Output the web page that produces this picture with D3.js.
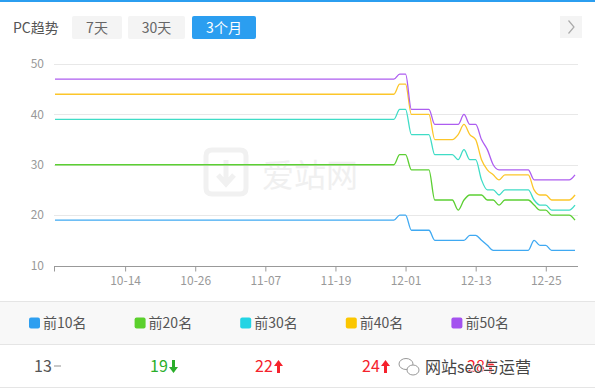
<!DOCTYPE html>
<html>
<head>
<meta charset="utf-8">
<script src="https://cdn.jsdelivr.net/npm/d3@7/dist/d3.min.js"></script>
<style>
  html, body { margin: 0; padding: 0; background: #fff; }
  svg { display: block; font-family: "Microsoft YaHei", "Noto Sans CJK SC", "Noto Sans", sans-serif; }
</style>
</head>
<body>
<svg id="chart" width="595" height="392"></svg>
<script>
// ---------------- data ----------------
const startDay = "2019-10-02";   // first category (10-02), one point per day
const tickLabels = ["10-14", "10-26", "11-07", "11-19", "12-01", "12-13", "12-25"];
const yTicks = [10, 20, 30, 40, 50];
const periodButtons = ["7天", "30天", "3个月"];
const seriesNames = ["前10名", "前20名", "前30名", "前40名", "前50名"];
const seriesColors = ["#2e9ff0", "#5bd02c", "#22d4e4", "#fbc600", "#a452ef"];
const lineColors = ["#3fa9f2", "#5ccf33", "#3fdcc6", "#fcc62a", "#ad5df0"];

const top10 = [
  19,19,19,19,19,19,19,19,19,19,
  19,19,19,19,19,19,19,19,19,19,
  19,19,19,19,19,19,19,19,19,19,
  19,19,19,19,19,19,19,19,19,19,
  19,19,19,19,19,19,19,19,19,19,
  19,19,19,19,19,19,19,19,19,20,
  20,17,17,17,17,15,15,15,15,15,
  15,16,16,15,14,13,13,13,13,13,
  13,13,15,14,14,13,13,13,13,13];
const top20 = [
  30,30,30,30,30,30,30,30,30,30,
  30,30,30,30,30,30,30,30,30,30,
  30,30,30,30,30,30,30,30,30,30,
  30,30,30,30,30,30,30,30,30,30,
  30,30,30,30,30,30,30,30,30,30,
  30,30,30,30,30,30,30,30,30,32,
  32,29,29,29,29,23,23,23,23,21,
  23,24,24,24,23,23,22,23,23,23,
  23,23,22,21,21,20,20,20,20,19];
const top30 = [
  39,39,39,39,39,39,39,39,39,39,
  39,39,39,39,39,39,39,39,39,39,
  39,39,39,39,39,39,39,39,39,39,
  39,39,39,39,39,39,39,39,39,39,
  39,39,39,39,39,39,39,39,39,39,
  39,39,39,39,39,39,39,39,39,41,
  41,36,36,36,36,32,32,32,32,31,
  33,31,31,27,25,25,24,25,25,25,
  25,25,23,22,22,21,21,21,21,22];
const top40 = [
  44,44,44,44,44,44,44,44,44,44,
  44,44,44,44,44,44,44,44,44,44,
  44,44,44,44,44,44,44,44,44,44,
  44,44,44,44,44,44,44,44,44,44,
  44,44,44,44,44,44,44,44,44,44,
  44,44,44,44,44,44,44,44,44,46,
  46,40,40,40,40,35,35,35,35,36,
  38,36,35,31,29,28,27,28,28,28,
  28,28,25,24,24,23,23,23,23,24];
const top50 = [
  47,47,47,47,47,47,47,47,47,47,
  47,47,47,47,47,47,47,47,47,47,
  47,47,47,47,47,47,47,47,47,47,
  47,47,47,47,47,47,47,47,47,47,
  47,47,47,47,47,47,47,47,47,47,
  47,47,47,47,47,47,47,47,47,48,
  48,41,41,41,41,38,38,38,38,38,
  40,38,38,35,33,30,29,29,29,29,
  29,29,27,27,27,27,27,27,27,28];

const currentValues = [13, 19, 22, 24, 28];
const trends = ["flat", "down", "up", "up", "up"];

// ---------------- build ----------------
const allSeries = [top10, top20, top30, top40, top50];
const parse = d3.timeParse("%Y-%m-%d");
const start = parse(startDay);
const dates = top10.map((_, i) => d3.timeDay.offset(start, i));
const tickDates = tickLabels.map(t => parse("2019-" + t));

const svg = d3.select("#chart");

// top blue strip
svg.append("rect").attr("x", 0).attr("y", 0).attr("width", 595).attr("height", 2).attr("fill", "#2b9ef0");

// header
svg.append("text").attr("x", 13).attr("y", 33).attr("font-size", 14).attr("fill", "#555").text("PC趋势");
const btnX = [72, 128, 192], btnW = [50, 57, 64];
periodButtons.forEach((b, i) => {
  const active = i === 2;
  svg.append("rect").attr("x", btnX[i]).attr("y", 16).attr("width", btnW[i]).attr("height", 23)
    .attr("rx", 2).attr("fill", active ? "#2b9ef0" : "#f4f4f4");
  svg.append("text").attr("x", btnX[i] + btnW[i] / 2).attr("y", 33).attr("text-anchor", "middle")
    .attr("font-size", 14).attr("fill", active ? "#fff" : "#666").text(b);
});
// right arrow button
svg.append("rect").attr("x", 560).attr("y", 16).attr("width", 22).attr("height", 22).attr("fill", "#f4f4f4");
svg.append("path").attr("d", "M568.5,20.5 L574,27 L568.5,33.5").attr("fill", "none").attr("stroke", "#aaa").attr("stroke-width", 1.2);

// scales
const x = d3.scaleTime().domain([dates[0], dates[dates.length - 1]]).range([55, 575]);
const y = d3.scaleLinear().domain([10, 50]).range([265.5, 64]);

// background watermark (爱站网)
const wm = svg.append("g").attr("fill", "none").attr("stroke", "#f1f1f1");
wm.append("path").attr("d", "M206,156 Q206,150 212,150 L240,150 Q246,150 246,156 L246,188 Q246,194 240,194 L212,194 Q206,194 206,188 Z").attr("stroke-width", 5);
wm.append("path").attr("d", "M226,160 L226,182 M218,175 L226,184 L234,175").attr("stroke-width", 5);
svg.append("text").attr("x", 262).attr("y", 187).attr("font-size", 32).attr("fill", "#f0f0f0").text("爱站网");

// grid lines
svg.append("g").selectAll("line").data(yTicks.filter(d => d > 10)).join("line")
  .attr("x1", 54).attr("x2", 578).attr("y1", d => Math.round(y(d)) + 0.5).attr("y2", d => Math.round(y(d)) + 0.5)
  .attr("stroke", "#e8e8e8").attr("stroke-width", 1);

// y labels
svg.append("g").selectAll("text").data(yTicks).join("text")
  .attr("x", 44).attr("y", d => y(d)).attr("dy", "0.35em").attr("text-anchor", "end")
  .attr("font-size", 12).attr("fill", "#999").text(d => d);

// x axis
const xAxis = d3.axisBottom(x).tickValues(tickDates).tickFormat(d3.timeFormat("%m-%d")).tickSize(5).tickPadding(5);
const gx = svg.append("g").attr("transform", `translate(0,${Math.round(y(10)) + 0.5})`).call(xAxis);
gx.select(".domain").remove();
gx.selectAll(".tick line").attr("stroke", "#999");
gx.selectAll(".tick text").attr("fill", "#999").attr("font-size", 12)
  .attr("font-family", "\"Microsoft YaHei\", \"Noto Sans CJK SC\", \"Noto Sans\", sans-serif");
gx.append("line").attr("x1", 54).attr("x2", 578).attr("y1", 0).attr("y2", 0).attr("stroke", "#999");
gx.append("line").attr("x1", 54.5).attr("x2", 54.5).attr("y1", 0).attr("y2", 5).attr("stroke", "#999");

// lines
const line = d3.line().x((d, i) => x(dates[i])).y(d => y(d)).curve(d3.curveMonotoneX);
svg.append("g").selectAll("path").data(allSeries).join("path")
  .attr("d", d => line(d)).attr("fill", "none")
  .attr("stroke", (d, i) => lineColors[i]).attr("stroke-width", 1.3);

// legend band
svg.append("rect").attr("x", 0).attr("y", 301.5).attr("width", 595).attr("height", 42.5).attr("fill", "#f8f8f8");
svg.append("line").attr("x1", 0).attr("x2", 595).attr("y1", 301.5).attr("y2", 301.5).attr("stroke", "#e5e5e5");
svg.append("line").attr("x1", 0).attr("x2", 595).attr("y1", 344.5).attr("y2", 344.5).attr("stroke", "#e5e5e5");
svg.append("line").attr("x1", 0).attr("x2", 595).attr("y1", 387.5).attr("y2", 387.5).attr("stroke", "#e5e5e5");

const colX = seriesNames.map((_, i) => 29 + i * 105.6);
const lg = svg.append("g").selectAll("g").data(seriesNames).join("g")
  .attr("transform", (d, i) => `translate(${colX[i]},0)`);
lg.append("rect").attr("x", 0).attr("y", 317.5).attr("width", 11).attr("height", 11).attr("rx", 2)
  .attr("fill", (d, i) => seriesColors[i]);
lg.append("text").attr("x", 14).attr("y", 323).attr("dy", "0.35em").attr("font-size", 14).attr("fill", "#555").text(d => d);

// current values row
const valueX = [34, 150, 255, 362, 467];
const trendColor = { flat: "#555", down: "#2aae2a", up: "#f5222d" };
const vg = svg.append("g").selectAll("g").data(currentValues).join("g")
  .attr("transform", (d, i) => `translate(${valueX[i]},0)`);
vg.append("text").attr("x", 0).attr("y", 366.5).attr("dy", "0.35em").attr("font-size", 16)
  .attr("fill", (d, i) => trendColor[trends[i]]).text(d => d);
vg.each(function (d, i) {
  const g = d3.select(this);
  const ax = 23.5;
  if (trends[i] === "flat") {
    g.append("line").attr("x1", ax - 3.5).attr("x2", ax + 3.5).attr("y1", 366).attr("y2", 366)
      .attr("stroke", "#c8c8c8").attr("stroke-width", 2);
  } else if (trends[i] === "up") {
    g.append("path").attr("d", `M${ax},360 L${ax + 4.5},366 L${ax + 1.5},366 L${ax + 1.5},373 L${ax - 1.5},373 L${ax - 1.5},366 L${ax - 4.5},366 Z`)
      .attr("fill", trendColor.up);
  } else {
    g.append("path").attr("d", `M${ax},373 L${ax + 4.5},367 L${ax + 1.5},367 L${ax + 1.5},360 L${ax - 1.5},360 L${ax - 1.5},367 L${ax - 4.5},367 Z`)
      .attr("fill", trendColor.down);
  }
});

// overlay watermark (WeChat account name)
const ow = svg.append("g");
ow.append("ellipse").attr("cx", 406).attr("cy", 364).attr("rx", 7).attr("ry", 5.5).attr("fill", "#fff").attr("fill-opacity", 0.6).attr("stroke", "#999").attr("stroke-width", 1);
ow.append("ellipse").attr("cx", 413).attr("cy", 370).attr("rx", 6).attr("ry", 5).attr("fill", "#fff").attr("stroke", "#999").attr("stroke-width", 1);
ow.append("text").attr("x", 425).attr("y", 367).attr("dy", "0.35em").attr("font-size", 16)
  .attr("fill", "#444").attr("stroke", "#fff").attr("stroke-width", 1.5).attr("stroke-opacity", 0.8)
  .attr("paint-order", "stroke").text("网站seo与运营");
</script>
</body>
</html>
